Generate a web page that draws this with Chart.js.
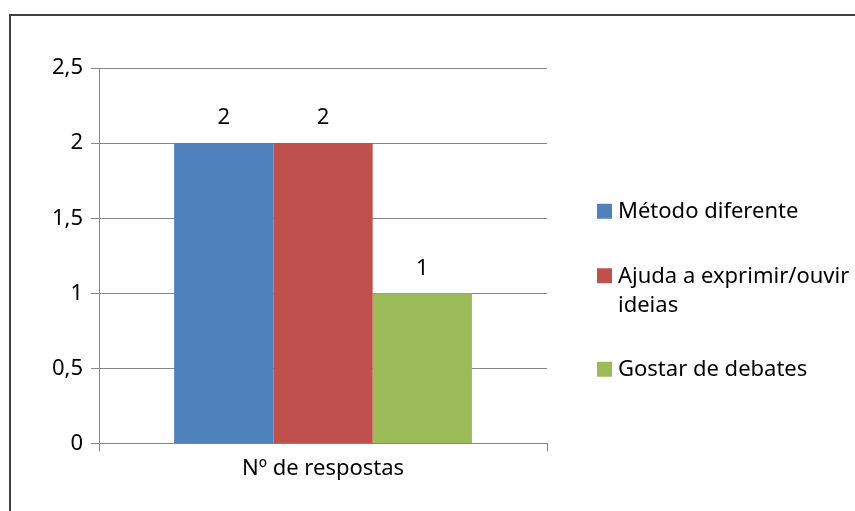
<!DOCTYPE html>
<html>
<head>
<meta charset="utf-8">
<script src="https://cdn.jsdelivr.net/npm/chart.js@4.4.0/dist/chart.umd.min.js"></script>
<style>
  html, body { margin: 0; padding: 0; background: #fff; }
  #wrap { width: 855px; height: 511px; }
</style>
</head>
<body>
<div id="wrap"><canvas id="grafico"></canvas></div>
<script>
// dados do gráfico
var categorias = ['Nº de respostas'];
var series = ['Método diferente', 'Ajuda a exprimir/ouvir ideias', 'Gostar de debates'];
var valores = [[2], [2], [1]];
var cores = ['#4F81BD', '#C0504D', '#9BBB59'];
var ticksY = [0, 0.5, 1, 1.5, 2, 2.5];

var FONTE = "'Noto Sans', sans-serif";
var TAM = 22;

function virgula(v) {
    return String(v).replace('.', ',');
}

// moldura cinzenta à volta do gráfico
var moldura = {
    id: 'moldura',
    beforeDraw: function (chart) {
        var ctx = chart.ctx;
        ctx.save();
        ctx.fillStyle = '#fff';
        ctx.fillRect(0, 0, chart.width, chart.height);
        ctx.strokeStyle = '#404040';
        ctx.lineWidth = 2;
        ctx.strokeRect(10, 15, chart.width + 20, chart.height + 20);
        ctx.restore();
    }
};

// valores por cima das barras
var rotulos = {
    id: 'rotulos',
    afterDatasetsDraw: function (chart) {
        var ctx = chart.ctx;
        ctx.save();
        ctx.font = TAM + 'px ' + FONTE;
        ctx.fillStyle = '#000';
        ctx.textAlign = 'center';
        ctx.textBaseline = 'middle';
        chart.data.datasets.forEach(function (ds, i) {
            chart.getDatasetMeta(i).data.forEach(function (bar, j) {
                ctx.fillText(virgula(ds.data[j]), bar.x, bar.y - 25);
            });
        });
        ctx.restore();
    }
};

// legenda à direita, com quebra de linha
var legenda = {
    id: 'legenda',
    afterDraw: function (chart) {
        var ctx = chart.ctx;
        var xq = chart.chartArea.right + 50;
        var xt = xq + 21;
        var largura = chart.width - xt - 2;
        var alt = 29, gap = 35.5;
        ctx.save();
        ctx.font = TAM + 'px ' + FONTE;
        ctx.textBaseline = 'middle';
        var itens = chart.data.datasets.map(function (ds) {
            var palavras = ds.label.split(' ');
            var linhas = [], atual = '';
            palavras.forEach(function (p) {
                var t = atual ? atual + ' ' + p : p;
                if (ctx.measureText(t).width > largura && atual) {
                    linhas.push(atual);
                    atual = p;
                } else {
                    atual = t;
                }
            });
            linhas.push(atual);
            return { linhas: linhas, cor: ds.backgroundColor };
        });
        var total = 0;
        itens.forEach(function (it) { total += it.linhas.length * alt; });
        total += gap * (itens.length - 1);
        var y = chart.height * 0.569 - total / 2;
        itens.forEach(function (it) {
            var cy = y + alt / 2;
            ctx.fillStyle = it.cor;
            ctx.fillRect(xq, cy - 8, 15, 15);
            ctx.fillStyle = '#000';
            it.linhas.forEach(function (l, k) {
                ctx.fillText(l, xt, cy + k * alt);
            });
            y += it.linhas.length * alt + gap;
        });
        ctx.restore();
    }
};

var datasets = series.map(function (nome, i) {
    return {
        label: nome,
        data: valores[i],
        backgroundColor: cores[i],
        borderWidth: 0,
        categoryPercentage: 0.665,
        barPercentage: 1
    };
});

new Chart(document.getElementById('grafico').getContext('2d'), {
    type: 'bar',
    data: {
        labels: categorias,
        datasets: datasets
    },
    options: {
        responsive: true,
        maintainAspectRatio: false,
        animation: false,
        layout: {
            padding: { left: 44, right: 308, top: 68, bottom: 25 }
        },
        plugins: {
            legend: { display: false },
            tooltip: { enabled: false }
        },
        scales: {
            x: {
                grid: {
                    offset: true,
                    drawOnChartArea: false,
                    drawTicks: true,
                    tickLength: 8,
                    color: '#868686'
                },
                border: { color: '#868686' },
                ticks: {
                    color: '#000',
                    font: { family: FONTE, size: TAM },
                    padding: 4
                }
            },
            y: {
                min: 0,
                max: 2.5,
                afterBuildTicks: function (axis) {
                    axis.ticks = ticksY.map(function (v) { return { value: v }; });
                },
                grid: {
                    color: '#868686',
                    tickLength: 8
                },
                border: { color: '#868686' },
                ticks: {
                    color: '#000',
                    font: { family: FONTE, size: TAM },
                    padding: 8,
                    callback: function (v) { return virgula(v); }
                }
            }
        }
    },
    plugins: [moldura, rotulos, legenda]
});
</script>
</body>
</html>
